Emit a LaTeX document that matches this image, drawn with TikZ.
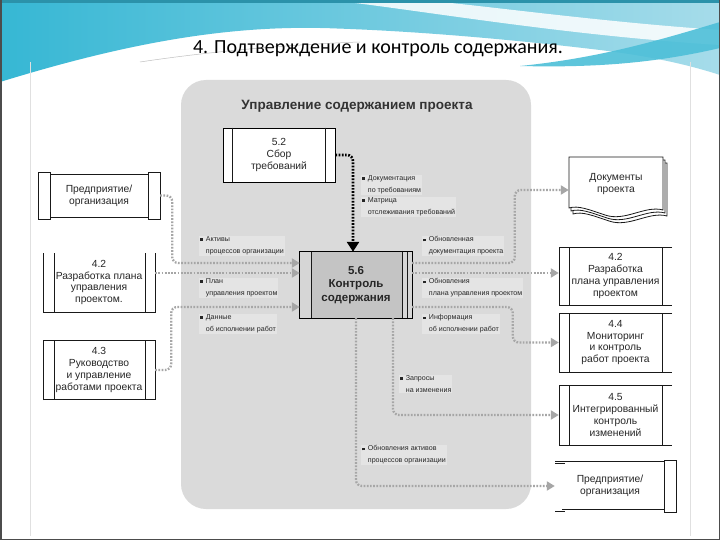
\documentclass[tikz,border=0pt]{standalone}
\usepackage{fontspec}
\setmainfont{Liberation Sans}
\newfontfamily\titlefont{Carlito}
\usetikzlibrary{arrows.meta,calc}
\definecolor{panel}{HTML}{DADADA}
\definecolor{conng}{HTML}{A6A6A6}
\definecolor{lab}{HTML}{E4E4E4}
\definecolor{tealA}{HTML}{36B7D4}
\definecolor{tealB}{HTML}{A6DCEA}
\definecolor{tealC}{HTML}{4DBFD8}
\definecolor{cfill}{HTML}{C4C4C4}
\definecolor{cband}{HTML}{D6D6D6}
\newcommand{\bsq}{\rule[0.6pt]{2.7pt}{2.7pt}\hspace{3pt}}
\newcommand{\ind}{\hspace*{5.7pt}}
\begin{document}
\begin{tikzpicture}[x=1pt,y=-1pt,
  boxtxt/.style={align=center,font=\fontsize{10.3}{11.8}\selectfont,text=black!85,inner sep=0pt},
  deco/.style={line width=0.8pt,draw=black!90},
  conn/.style={draw=conng,line width=2.3pt,dash pattern=on 1.7pt off 1.5pt,rounded corners=6pt,-{Triangle[width=9pt,length=8pt,fill=conng]}},
  bconn/.style={draw=black,line width=2.7pt,dash pattern=on 1.7pt off 1.5pt,rounded corners=6pt,-{Triangle[width=12pt,length=10pt]}},
  lbl/.style={anchor=north west,align=left,font=\fontsize{7.1}{11.5}\selectfont,fill=lab,inner sep=1pt,text=black!85}]
\useasboundingbox (0,0) rectangle (720,540);
\fill[white] (0,0) rectangle (720,540);
% slide header wave
\shade[left color=tealA,right color=tealB] (0,0) -- (720,0) -- (720,75) .. controls (680,62) and (640,55) .. (600,50) .. controls (500,38) and (400,30) .. (320,28) .. controls (220,26) and (120,45) .. (0,82) -- cycle;
\fill[white,opacity=0.85] (330,0) .. controls (420,10) and (560,35) .. (720,45) -- (720,30) .. controls (600,22) and (480,5) .. (420,0) -- cycle;
\fill[tealC,opacity=0.9] (520,66) .. controls (600,58) and (660,40) .. (720,22) -- (720,48) .. controls (660,62) and (600,68) .. (520,66) -- cycle;
\draw[white,line width=3pt] (0,86) .. controls (100,52) and (240,30) .. (330,30);
\draw[black!25,line width=0.5pt] (140,62) .. controls (220,50) and (300,44) .. (360,42);
\fill[tealA!80!black] (0,0) rectangle (720,3);
\draw[black!12,line width=0.6pt] (30,62) -- (30,536) (690,62) -- (690,536);
\draw[black!70,line width=1.5pt] (0.75,0) -- (0.75,539.25) -- (719.25,539.25) -- (719.25,0);
\node[font=\titlefont\fontsize{20}{24}\selectfont] (title) at (378,49) {4. Подтверждение и контроль содержания.};
% panel
\fill[panel,rounded corners=25pt] (181,80) rectangle (531,509);
\node[font=\bfseries\fontsize{13.5}{15}\selectfont,text=black!80] (hdr) at (357,106) {Управление содержанием проекта};
% 5.2
\node[boxtxt,draw,line width=0.8pt,fill=white,minimum width=112pt,minimum height=54pt] (n52) at (279,155) {5.2\\Сбор\\требований};
\draw[deco] ([xshift=10pt]n52.north west) -- ([xshift=10pt]n52.south west) ([xshift=-10pt]n52.north east) -- ([xshift=-10pt]n52.south east);
% 5.6
\node[fill=cfill,minimum width=112pt,minimum height=66pt,align=center,inner sep=0pt,font=\bfseries\fontsize{11.5}{13.8}\selectfont,text=black!85] (n56) at (356,285) {5.6\\Контроль\\содержания};
\fill[cband] (n56.north west) rectangle ([xshift=12pt]n56.south west);
\fill[cband] (n56.north east) rectangle ([xshift=-10pt]n56.south east);
\draw[line width=0.9pt] (n56.north west) rectangle (n56.south east);
\draw[deco] ([xshift=12pt]n56.north west) -- ([xshift=12pt]n56.south west) ([xshift=-10pt]n56.north east) -- ([xshift=-10pt]n56.south east) ([xshift=-5pt]n56.north east) -- ([xshift=-5pt]n56.south east);
% left boxes
\node[boxtxt,minimum width=122pt,minimum height=47pt] (lA) at (99,195.5) {Предприятие/\\организация};
\draw[deco,fill=white] (38,172) rectangle (50,219) (148,172) rectangle (160,219);
\draw[deco] (50,174) -- (148,174) (50,217) -- (148,217);
\node[boxtxt,minimum width=112pt,minimum height=59pt] (lB) at (99,282.5) {4.2\\Разработка плана\\управления\\проектом.};
\draw[deco] (43,253) -- (43,312) -- (155,312) -- (155,253) (54,253) -- (54,312) (145,253) -- (145,312);
\node[boxtxt,minimum width=112pt,minimum height=60pt] (lC) at (99,370) {4.3\\Руководство\\и управление\\работами проекта};
\draw[deco] (43,400) -- (43,340) -- (155,340) -- (155,400) (54,340) -- (54,400) (145,340) -- (145,400) (43,399) -- (155,399);
% right boxes
\draw[deco,fill=white] (573,163) -- (667,163) -- (667,216) .. controls (649,211) and (629,228) .. (609,221) .. controls (594,216) and (582,211) .. (573,214) -- cycle;
\draw[deco,fill=white] (571,160) -- (665,160) -- (665,213) .. controls (647,208) and (627,225) .. (607,218) .. controls (592,213) and (580,208) .. (571,211) -- cycle;
\draw[deco,fill=white] (569,157) -- (663,157) -- (663,210) .. controls (645,205) and (625,222) .. (605,215) .. controls (590,210) and (578,205) .. (569,208) -- cycle;
\node[boxtxt,minimum width=94pt,minimum height=50pt] (rDoc) at (616,184) {Документы\\проекта};
\node[boxtxt,minimum width=113pt,minimum height=58pt] (rB) at (615.5,276) {4.2\\Разработка\\плана управления\\проектом};
\draw[deco] (672,247) -- (559,247) -- (559,305) -- (672,305) (569,247) -- (569,305) (662,247) -- (662,305);
\node[boxtxt,minimum width=113pt,minimum height=59pt] (rC) at (615.5,342.5) {4.4\\Мониторинг\\и контроль\\работ проекта};
\draw[deco] (672,313) -- (559,313) -- (559,372) -- (672,372) (569,313) -- (569,372) (662,313) -- (662,372);
\node[boxtxt,minimum width=113pt,minimum height=60pt] (rD) at (615.5,415) {4.5\\Интегрированный\\контроль\\изменений};
\draw[deco] (672,385) -- (559,385) -- (559,445) -- (672,445) (569,385) -- (569,445) (662,385) -- (662,445);
\node[boxtxt,minimum width=110pt,minimum height=50pt] (rE) at (610,486) {Предприятие/\\организация};
\draw[deco] (555,461) -- (664,461) (555,463.5) -- (565,463.5) (562,509) -- (664,509) (555,511.5) -- (565,511.5);
\draw[deco,fill=white] (664,460) rectangle (676,512);
% connectors
\coordinate (inA) at ($(n56.west)+(0,-22)$);
\coordinate (inB) at ($(n56.west)+(0,-12)$);
\coordinate (inC) at ($(n56.west)+(0,22)$);
\draw[conn] (lA.east) -- ++(12,0) |- (inA);
\draw[conn] (lB.east |- inB) -- (inB);
\draw[conn] (lC.east) -- ++(16,0) |- (inC);
\draw[bconn] (n52.east) -| ($(n56.north)+(-3,0)$);
\coordinate (oD) at ($(n56.east)+(0,-22)$);
\coordinate (oE) at ($(n56.east)+(0,-12)$);
\coordinate (oF) at ($(n56.east)+(0,22)$);
\draw[conn] (oD) -| ($(rDoc.west)+(-54,6)$) -- ($(rDoc.west)+(0,6)$);
\draw[conn] (oE) -- (rB.west |- oE);
\draw[conn] (oF) -| ($(rC.west)+(-46,0)$) -- (rC.west);
\draw[conn] ($(n56.south)+(37,0)$) |- (rD.west);
\draw[conn] (n56.south) |- (rE.west);
% labels
\node[lbl] (t1) at (199,235.5) {\bsq Активы\\\ind процессов организации};
\node[lbl] (t2) at (199,277.5) {\bsq План\\\ind управления проектом};
\node[lbl] (t3) at (199,313.5) {\bsq Данные\\\ind об исполнении работ};
\node[lbl] (t4) at (361,174.5) {\bsq Документация\\\ind по требованиям};
\node[lbl] (t5) at (361,196.5) {\bsq Матрица\\\ind отслеживания требований};
\node[lbl] (t6) at (422,235.5) {\bsq Обновленная\\\ind документация проекта};
\node[lbl] (t7) at (422,277.5) {\bsq Обновления\\\ind плана управления проектом};
\node[lbl] (t8) at (422,313.5) {\bsq Информация\\\ind об исполнении работ};
\node[lbl] (t9) at (399,374.5) {\bsq Запросы\\\ind на изменения};
\node[lbl] (t10) at (361,444.5) {\bsq Обновления активов\\\ind процессов организации};
\end{tikzpicture}
\end{document}
